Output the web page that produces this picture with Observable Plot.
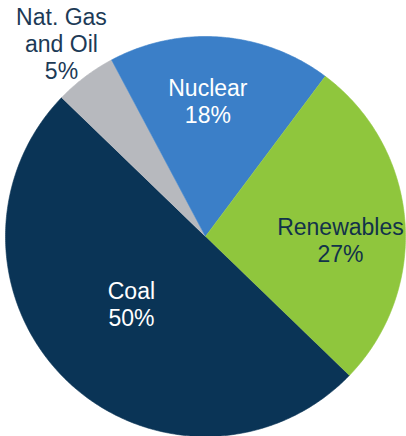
<!DOCTYPE html>
<html>
<head>
<meta charset="utf-8">
<script src="https://cdn.jsdelivr.net/npm/d3@7"></script>
<script src="https://cdn.jsdelivr.net/npm/@observablehq/plot@0.6"></script>
<style>
  html, body { margin: 0; padding: 0; background: #fff; }
  #chart svg { display: block; }
</style>
</head>
<body>
<div id="chart"></div>
<script>
// ---- data ----
const categories = ["Coal", "Nat. Gas\nand Oil", "Nuclear", "Renewables"];
const shares = [50, 5, 18, 27];

// ---- styles / layout (not data) ----
const sliceColors = ["#0a3456", "#b7b9be", "#3b7fc8", "#8fc63d"];
const textColors = ["#ffffff", "#1c3a56", "#ffffff", "#12324a"];
const labelRadius = [0.5, 1.205, 0.68, 0.675];
const labelAngleShift = [3.8, 0.3, -3.4, 5.9]; // degrees
const startDeg = 134;

const W = 406, H = 436;
const cx = 205, cy = 236, R = 200;

const rows = categories.map((c, i) => ({name: c, value: shares[i]}));
const pie = d3.pie().value(d => d.value).sort(null)
  .startAngle(startDeg * Math.PI / 180)
  .endAngle(startDeg * Math.PI / 180 + 2 * Math.PI);
const arcs = pie(rows);

// polygon outline for each slice (center + arc points)
const pts = [];
arcs.forEach(a => {
  pts.push({name: a.data.name, x: 0, y: 0});
  const n = Math.max(8, Math.ceil((a.endAngle - a.startAngle) / 0.01));
  for (let k = 0; k <= n; k++) {
    const t = a.startAngle + (a.endAngle - a.startAngle) * k / n;
    pts.push({name: a.data.name, x: Math.sin(t), y: Math.cos(t)});
  }
});

const labels = arcs.map((a, i) => {
  const mid = (a.startAngle + a.endAngle) / 2 + labelAngleShift[i] * Math.PI / 180;
  return {
    name: a.data.name,
    text: a.data.name + "\n" + a.data.value + "%",
    x: labelRadius[i] * Math.sin(mid),
    y: labelRadius[i] * Math.cos(mid),
    fill: textColors[i]
  };
});

const chart = Plot.plot({
  width: W,
  height: H,
  margin: 0,
  x: {domain: [-cx / R, (W - cx) / R], range: [0, W], axis: null},
  y: {domain: [-(H - cy) / R, cy / R], range: [H, 0], axis: null},
  color: {domain: categories, range: sliceColors},
  style: {fontFamily: "'Liberation Sans', Arial, sans-serif", background: "#fff"},
  marks: [
    Plot.line(pts, {x: "x", y: "y", z: "name", fill: "name", stroke: "name", strokeWidth: 0.6, curve: "linear"}),
    ...labels.map(l => Plot.text([l], {
      x: "x", y: "y", text: "text",
      fill: l.fill, fontSize: 23, lineHeight: 1.19,
      textAnchor: "middle", lineAnchor: "middle"
    }))
  ]
});

document.getElementById("chart").appendChild(chart);
</script>
</body>
</html>
